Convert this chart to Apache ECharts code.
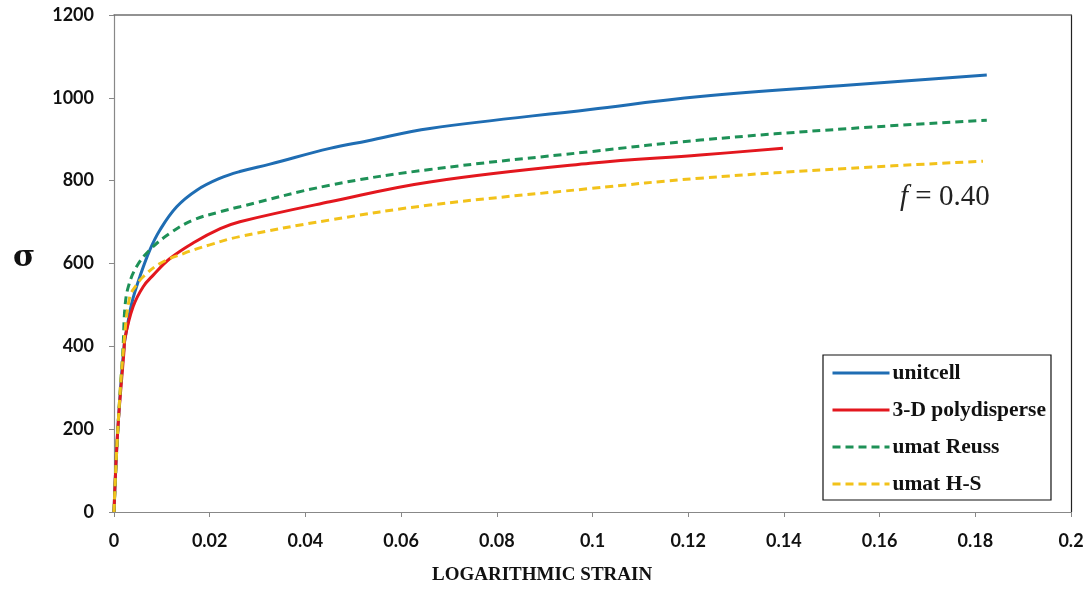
<!DOCTYPE html>
<html>
<head>
<meta charset="utf-8">
<script src="https://cdn.jsdelivr.net/npm/echarts@6/dist/echarts.min.js"></script>
<style>html,body{margin:0;padding:0;background:#fff;}#c{width:1091px;height:589px;}</style>
</head>
<body>
<div id="c"></div>
<script>
// Data
const xTicks = [0, 0.02, 0.04, 0.06, 0.08, 0.1, 0.12, 0.14, 0.16, 0.18, 0.2];
const yTicks = [0, 200, 400, 600, 800, 1000, 1200];

const unitcellX = [0,0.0008,0.0021,0.0028,0.0037,0.0054,0.0075,0.0096,0.0131,0.0173,0.0222,0.0263,0.0326,0.0451,0.0529,0.066,0.0995,0.1225,0.1538,0.1824];
const unitcellY = [0,200,400,450,504,568,633,681,737,777,806,822,840,878,896,926,972,1003,1031,1055];

const polyX = [0,0.0008,0.0021,0.0023,0.004,0.0061,0.0082,0.0117,0.0166,0.0222,0.0263,0.0451,0.066,0.0995,0.1225,0.1398];
const polyY = [0,200,390,420,496,544,572,612,650,684,701,749,797,842,862,878];

const reussX = [0,0.0008,0.0019,0.0023,0.003,0.0047,0.0075,0.0117,0.0166,0.0222,0.0263,0.0451,0.066,0.0995,0.1225,0.1538,0.1824];
const reussY = [0,200,400,496,544,592,633,673,705,725,737,789,827,870,898,926,946];

const hsX = [0,0.0008,0.0021,0.0033,0.0045,0.0061,0.0096,0.0145,0.02,0.0263,0.0451,0.066,0.0995,0.1225,0.1538,0.1816];
const hsY = [0,200,410,520,545,568,600,624,645,665,705,741,781,806,830,847];

const seriesNames = ['unitcell', '3-D polydisperse', 'umat Reuss', 'umat H-S'];

function pairs(xs, ys) { return xs.map((x, i) => [x, ys[i]]); }

const chart = echarts.init(document.getElementById('c'));
const labelFont = { fontFamily: 'Lato', fontWeight: 'bold', fontSize: 18, color: '#111' };

function lineSeries(name, xs, ys, color, dashed, z) {
  return {
    name: name, type: 'line', showSymbol: false, symbol: 'none', smooth: 0.4,
    data: pairs(xs, ys),
    lineStyle: { color: color, width: 3, type: dashed ? [8, 5] : 'solid' },
    itemStyle: { color: color }, z: z
  };
}

chart.setOption({
  animation: false,
  backgroundColor: '#fff',
  grid: { left: 114, right: 20, top: 15, bottom: 77 },
  xAxis: [{
    type: 'value', min: 0, max: 0.2, interval: 0.02,
    axisLine: { show: true, onZero: false, lineStyle: { color: '#888', width: 1.2 } },
    axisTick: { show: true, inside: false, length: 5, lineStyle: { color: '#888' } },
    splitLine: { show: false },
    axisLabel: Object.assign({ margin: 20, formatter: v => String(parseFloat(v.toFixed(4))) }, labelFont)
  }, {
    type: 'value', position: 'top', min: 0, max: 0.2,
    axisLine: { show: true, onZero: false, lineStyle: { color: '#6f6f6f', width: 1.5 } },
    axisTick: { show: false }, axisLabel: { show: false }, splitLine: { show: false }
  }],
  yAxis: [{
    type: 'value', min: 0, max: 1200, interval: 200,
    axisLine: { show: true, onZero: false, lineStyle: { color: '#888', width: 1.2 } },
    axisTick: { show: true, inside: false, length: 5, lineStyle: { color: '#888' } },
    splitLine: { show: false },
    axisLabel: Object.assign({ margin: 20, formatter: v => String(v) }, labelFont)
  }, {
    type: 'value', position: 'right', min: 0, max: 1200,
    axisLine: { show: true, onZero: false, lineStyle: { color: '#222', width: 1.2 } },
    axisTick: { show: false }, axisLabel: { show: false }, splitLine: { show: false }
  }],
  legend: {
    orient: 'vertical', left: 823, top: 355,
    backgroundColor: '#fff', borderColor: '#111', borderWidth: 1.2,
    padding: [7, 5, 5, 8], itemGap: 15, itemWidth: 57, itemHeight: 14,
    itemStyle: { opacity: 0 },
    lineStyle: { width: 3 },
    textStyle: { fontFamily: 'Liberation Serif', fontWeight: 'bold', fontSize: 21.5, color: '#111', padding: [0, 0, 0, -2] },
    data: seriesNames
  },
  series: [
    lineSeries(seriesNames[0], unitcellX, unitcellY, '#1f6db3', false, 3),
    lineSeries(seriesNames[1], polyX, polyY, '#e3171e', false, 4),
    lineSeries(seriesNames[2], reussX, reussY, '#1e9157', true, 5),
    lineSeries(seriesNames[3], hsX, hsY, '#f2c21a', true, 6)
  ],
  graphic: [
    { type: 'text', left: 13, top: 243, style: { text: 'σ', font: 'bold 30px "DejaVu Serif"', fill: '#111' } },
    { type: 'text', left: 432, top: 566, style: { text: 'LOGARITHMIC STRAIN', font: 'bold 19px "Liberation Serif"', fill: '#111' } },
    { type: 'text', left: 900, top: 183, style: {
        rich: {
          i: { fontFamily: 'Liberation Serif', fontStyle: 'italic', fontSize: 29, fill: '#222' },
          n: { fontFamily: 'Liberation Serif', fontSize: 29, fill: '#222' }
        },
        text: '{i|f}{n| = 0.40}'
      } }
  ]
});
</script>
</body>
</html>
